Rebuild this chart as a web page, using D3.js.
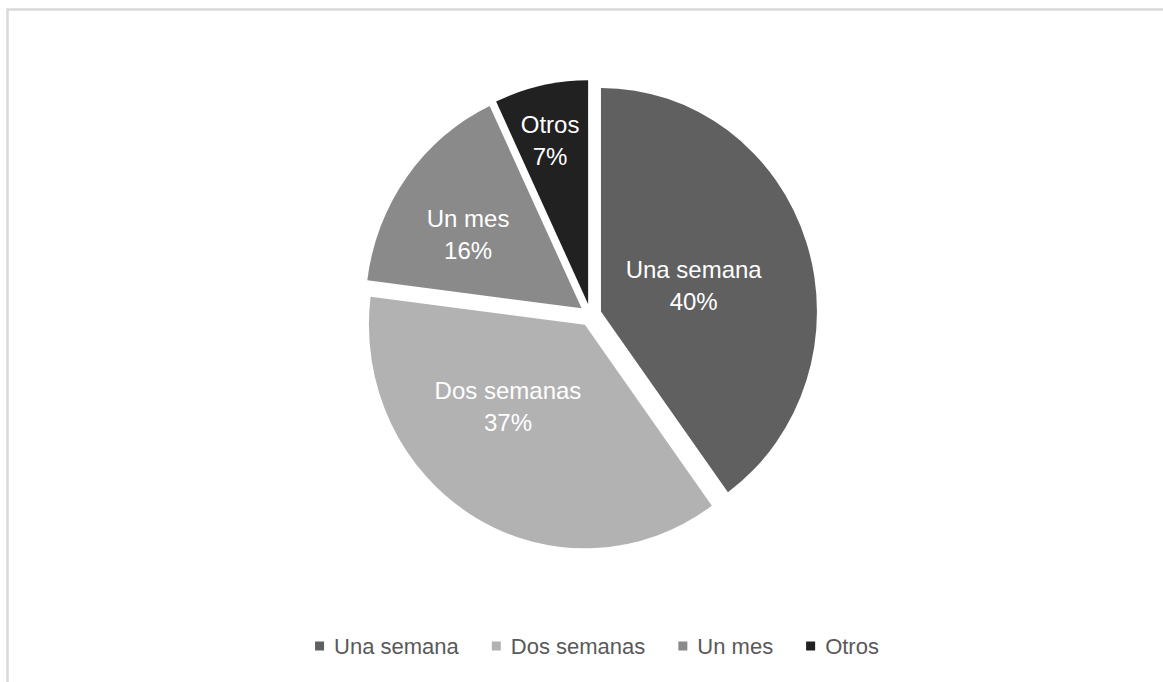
<!DOCTYPE html>
<html>
<head>
<meta charset="utf-8">
<script src="https://cdn.jsdelivr.net/npm/d3@7"></script>
<style>
  body { margin: 0; background: #fff; }
  svg { display: block; }
</style>
</head>
<body>
<div id="chart"></div>
<script>
var categories = ["Una semana", "Dos semanas", "Un mes", "Otros"];
var values = [40, 37, 16, 7];
var colors = ["#606060", "#b2b2b2", "#8a8a8a", "#212121"];

// where each label sits: distance from centre, angle in degrees (clockwise from top)
var labelSpots = [[107, 74.6], [121, 223], [145, 302.4], [173, 346.5]];

var width = 1163;
var height = 682;
var cx = 590.5;
var cy = 315;
var radius = 216;
var explode = 11;
var stretch = 1.035;

var color = d3.scaleOrdinal()
    .domain(categories)
    .range(colors);

var svg = d3.select("#chart")
    .append("svg")
    .attr("width", width)
    .attr("height", height);

// chart frame (runs off the picture at right and bottom)
svg.append("rect")
    .attr("x", 7.5)
    .attr("y", 9.5)
    .attr("width", 1300)
    .attr("height", 800)
    .attr("fill", "none")
    .attr("stroke", "#d9d9d9")
    .attr("stroke-width", 2.5);

var data = categories.map(function(c, i) { return { key: c, value: values[i] }; });

var pie = d3.pie()
    .sort(null)
    .value(function(d) { return d.value; });
var data_ready = pie(data);

var arc = d3.arc()
    .innerRadius(0)
    .outerRadius(radius);

var g = svg.append("g")
    .attr("transform", "translate(" + cx + "," + cy + ") scale(1," + stretch + ")");

g.selectAll("path")
    .data(data_ready)
    .enter().append("path")
    .attr("d", arc)
    .attr("transform", function(d) {
        var a = (d.startAngle + d.endAngle) / 2;
        return "translate(" + (Math.sin(a) * explode) + "," + (-Math.cos(a) * explode) + ")";
    })
    .attr("fill", function(d) { return color(d.data.key); });

var labels = svg.append("g")
    .attr("transform", "translate(" + cx + "," + cy + ")")
    .selectAll("g")
    .data(data_ready)
    .enter().append("g")
    .attr("transform", function(d, i) {
        var a = labelSpots[i][1] * Math.PI / 180;
        var r = labelSpots[i][0];
        return "translate(" + (Math.sin(a) * r) + "," + (-Math.cos(a) * r * stretch) + ")";
    })
    .style("font-family", "'Liberation Sans', Arial, sans-serif")
    .style("font-size", "24px")
    .attr("fill", "#ffffff")
    .attr("text-anchor", "middle");

labels.append("text")
    .attr("y", -7.5)
    .text(function(d) { return d.data.key; });
labels.append("text")
    .attr("y", 24.5)
    .text(function(d) { return d.data.value + "%"; });

// legend
var legend = svg.append("g")
    .style("font-family", "'Liberation Sans', Arial, sans-serif")
    .style("font-size", "22px");

var x = 0;
var items = legend.selectAll("g")
    .data(categories)
    .enter().append("g");
items.append("rect")
    .attr("width", 9)
    .attr("height", 9)
    .attr("y", -4.5)
    .attr("fill", function(d) { return color(d); });
items.append("text")
    .attr("x", 19)
    .attr("dy", "0.35em")
    .attr("fill", "#595959")
    .text(function(d) { return d; });
items.each(function() {
    var w = d3.select(this).select("text").node().getComputedTextLength();
    d3.select(this).attr("transform", "translate(" + x + ",0)");
    x += 19 + w + 33;
});
var total = x - 33;
legend.attr("transform", "translate(" + (597 - total / 2) + ",646)");
</script>
</body>
</html>
